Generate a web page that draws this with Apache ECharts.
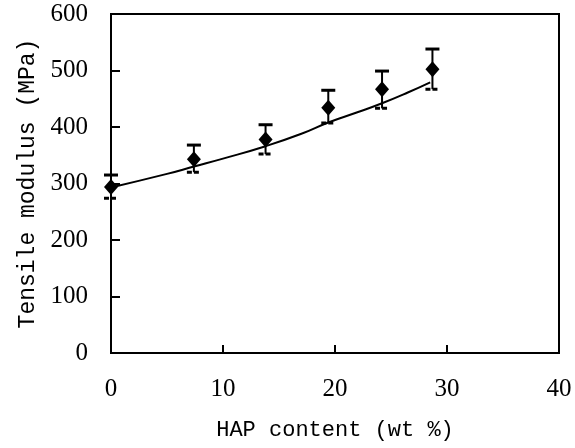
<!DOCTYPE html>
<html>
<head>
<meta charset="utf-8">
<script src="https://cdn.jsdelivr.net/npm/echarts@6/dist/echarts.min.js"></script>
<style>
  html, body { margin: 0; padding: 0; background: #fff; }
  #chart { width: 575px; height: 448px; }
</style>
</head>
<body>
<div id="chart"></div>
<script>
// measured points
var hapContent = [0, 7.4, 13.8, 19.4, 24.2, 28.7]
var modulus = [294, 343, 378, 434, 467, 502]
var errHigh = [315, 368, 404, 465, 499, 538]
var errLow = [274, 320, 352, 407, 433, 467]

// fitted curve
var fitX = [0, 5, 7.4, 10, 13.8, 17, 19.4, 22, 24.2, 26.5, 28.5]
var fitY = [293, 317, 330, 344, 366, 388, 408, 426, 442, 461, 479]

var xTicks = [0, 10, 20, 30, 40]
var yTicks = [0, 100, 200, 300, 400, 500, 600]

var chart = echarts.init(document.getElementById('chart'))

var serifFont = '"Liberation Serif", "DejaVu Serif", serif'
var monoFont = '"Liberation Mono", "DejaVu Sans Mono", monospace'

var option = {
  backgroundColor: '#fff',
  animation: false,
  grid: {
    left: 111,
    right: 16,
    top: 14,
    bottom: 95,
    show: true,
    borderColor: '#000',
    borderWidth: 2,
    backgroundColor: 'transparent'
  },
  xAxis: {
    type: 'value',
    min: xTicks[0],
    max: xTicks[xTicks.length - 1],
    interval: 10,
    name: 'HAP content (wt %)',
    nameLocation: 'middle',
    nameGap: 66,
    nameTextStyle: { fontFamily: monoFont, fontSize: 22, color: '#000' },
    axisLine: { show: true, lineStyle: { color: '#000', width: 2 } },
    axisTick: { show: true, inside: true, length: 8, lineStyle: { color: '#000', width: 2 } },
    axisLabel: { fontFamily: serifFont, fontSize: 25, color: '#000', margin: 24 },
    splitLine: { show: false }
  },
  yAxis: {
    type: 'value',
    min: yTicks[0],
    max: yTicks[yTicks.length - 1],
    interval: 100,
    name: 'Tensile modulus (MPa)',
    nameLocation: 'middle',
    nameGap: 72,
    nameTextStyle: { fontFamily: monoFont, fontSize: 23, color: '#000' },
    axisLine: { show: true, lineStyle: { color: '#000', width: 2 } },
    axisTick: { show: true, inside: true, length: 9, lineStyle: { color: '#000', width: 2 } },
    axisLabel: { fontFamily: serifFont, fontSize: 25, color: '#000', margin: 23 },
    splitLine: { show: false }
  },
  series: [
    {
      type: 'line',
      data: fitX.map(function (x, i) { return [x, fitY[i]] }),
      smooth: true,
      showSymbol: false,
      lineStyle: { color: '#000', width: 2 },
      z: 2
    },
    {
      type: 'custom',
      data: hapContent.map(function (x, i) { return [x, errLow[i], errHigh[i]] }),
      renderItem: function (params, api) {
        var x = api.value(0)
        var lo = api.coord([x, api.value(1)])
        var hi = api.coord([x, api.value(2)])
        var mid = api.coord([x, modulus[params.dataIndex]])
        var half = 7
        var st = { stroke: '#000', lineWidth: 2 }
        return {
          type: 'group',
          children: [
            { type: 'line', shape: { x1: hi[0], y1: hi[1], x2: mid[0], y2: mid[1] }, style: st },
            { type: 'line', shape: { x1: hi[0] - half, y1: hi[1], x2: hi[0] + half, y2: hi[1] }, style: { stroke: '#000', lineWidth: 3 } },
            { type: 'line', shape: { x1: lo[0], y1: lo[1], x2: mid[0], y2: mid[1] }, style: st },
            { type: 'line', shape: { x1: lo[0] - half, y1: lo[1], x2: lo[0] + half, y2: lo[1] }, style: { stroke: '#000', lineWidth: 3, lineDash: [5, 2] } }
          ]
        }
      },
      z: 3
    },
    {
      type: 'scatter',
      data: hapContent.map(function (x, i) { return [x, modulus[i]] }),
      symbol: 'diamond',
      symbolSize: [14, 16],
      itemStyle: { color: '#000', opacity: 1 },
      z: 4
    }
  ]
}

chart.setOption(option)
</script>
</body>
</html>
